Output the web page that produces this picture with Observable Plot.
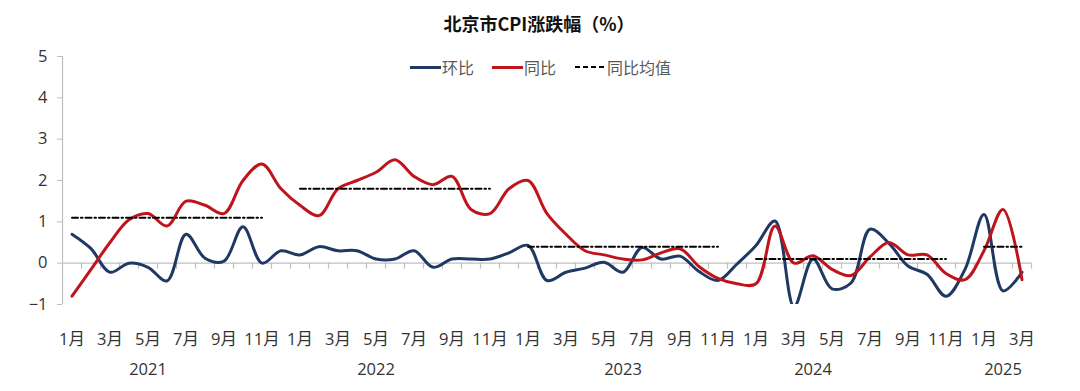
<!DOCTYPE html>
<html>
<head>
<meta charset="utf-8">
<script src="https://cdn.jsdelivr.net/npm/d3@7"></script>
<script src="https://cdn.jsdelivr.net/npm/@observablehq/plot@0.6"></script>
<style>
  body { margin: 0; background: #fff; }
  #wrap { position: relative; width: 1080px; height: 391px; font-family: "Open Sans", "Noto Sans CJK SC", sans-serif; }
  #title { position: absolute; left: 0; top: 10px; width: 1078px; text-align: center; font: bold 18px/26px "Noto Sans CJK SC", sans-serif; color: #111; }
  .lg { position: absolute; top: 57px; height: 20px; display: flex; align-items: center; font: 16px/20px "Noto Sans CJK SC", sans-serif; color: #595959; }
  .sw { width: 31px; height: 3px; margin-right: 1px; }
  #chart { position: absolute; left: 0; top: 0; }
</style>
</head>
<body>
<div id="wrap">
  <div id="chart"></div>
  <div id="title">北京市CPI涨跌幅（%）</div>
  <div class="lg" style="left:410px"><div class="sw" style="background:#1F3864"></div>环比</div>
  <div class="lg" style="left:492px"><div class="sw" style="background:#C0141C"></div>同比</div>
  <div class="lg" style="left:575px"><svg width="32" height="4" style="margin-right:0px"><line x1="0" y1="2" x2="32" y2="2" stroke="#000" stroke-width="2" stroke-dasharray="5,3"/></svg>同比均值</div>
</div>
<script>
const periods = [
  "2021-01","2021-02","2021-03","2021-04","2021-05","2021-06","2021-07","2021-08","2021-09","2021-10","2021-11","2021-12",
  "2022-01","2022-02","2022-03","2022-04","2022-05","2022-06","2022-07","2022-08","2022-09","2022-10","2022-11","2022-12",
  "2023-01","2023-02","2023-03","2023-04","2023-05","2023-06","2023-07","2023-08","2023-09","2023-10","2023-11","2023-12",
  "2024-01","2024-02","2024-03","2024-04","2024-05","2024-06","2024-07","2024-08","2024-09","2024-10","2024-11","2024-12",
  "2025-01","2025-02","2025-03"
];
// 环比
const mom = [
  0.7, 0.35, -0.22, 0.0, -0.1, -0.43, 0.7, 0.12, 0.05, 0.88, 0.0, 0.3,
  0.2, 0.4, 0.3, 0.3, 0.1, 0.1, 0.3, -0.1, 0.1, 0.1, 0.1, 0.25,
  0.43, -0.42, -0.22, -0.12, 0.02, -0.22, 0.38, 0.1, 0.17, -0.2, -0.42, -0.02,
  0.43, 1.02, -1.05, 0.1, -0.62, -0.48, 0.82, 0.48, -0.07, -0.27, -0.8, -0.15,
  1.18, -0.67, -0.22
];
// 同比
const yoy = [
  -0.8, -0.15, 0.5, 1.05, 1.2, 0.9, 1.5, 1.4, 1.2, 2.0, 2.4, 1.8,
  1.4, 1.15, 1.8, 2.0, 2.2, 2.5, 2.1, 1.9, 2.1, 1.3, 1.2, 1.8,
  2.0, 1.2, 0.7, 0.3, 0.2, 0.1, 0.08, 0.25, 0.35, -0.08, -0.37, -0.5,
  -0.5, 0.9, 0.0, 0.18, -0.15, -0.3, 0.15, 0.5, 0.2, 0.2, -0.25, -0.4,
  0.3, 1.3, -0.4
];
// 同比均值
const yoyMean = [
  1.1, 1.1, 1.1, 1.1, 1.1, 1.1, 1.1, 1.1, 1.1, 1.1, 1.1, null,
  1.8, 1.8, 1.8, 1.8, 1.8, 1.8, 1.8, 1.8, 1.8, 1.8, 1.8, null,
  0.4, 0.4, 0.4, 0.4, 0.4, 0.4, 0.4, 0.4, 0.4, 0.4, 0.4, null,
  0.1, 0.1, 0.1, 0.1, 0.1, 0.1, 0.1, 0.1, 0.1, 0.1, 0.1, null,
  0.4, 0.4, 0.4
];
const yTicks = [-1, 0, 1, 2, 3, 4, 5];
const yearLabels = ["2021", "2022", "2023", "2024", "2025"];
const yearLabelAt = ["2021-05", "2022-05", "2023-06", "2024-04", "2025-02"];

const rows = periods.map((p, i) => ({i, p, mom: mom[i], yoy: yoy[i], mean: yoyMean[i]}));
const idx = p => periods.indexOf(p);
const monthLabel = i => `${+periods[i].slice(5)}月`;
const xDomain = [-0.5, periods.length - 0.5];
const tickIdx = periods.map((p, i) => i).filter(i => i % 2 === 0);
const bounds = periods.map((p, i) => i + 0.5);
const years = yearLabels.map((y, k) => ({label: y, i: idx(yearLabelAt[k])}));

const BLUE = "#1F3864", RED = "#C0141C", AX = "#BFBFBF";
const font = `"Open Sans", "Noto Sans CJK SC", sans-serif`;

const chart = Plot.plot({
  width: 1080,
  height: 391,
  marginLeft: 62,
  marginRight: 49,
  marginTop: 56,
  marginBottom: 87,
  style: {fontFamily: font, fontSize: "16px", color: "#404040", background: "transparent"},
  x: {type: "linear", domain: xDomain},
  y: {domain: [yTicks[0], yTicks[yTicks.length - 1]]},
  marks: [
    Plot.ruleY([0], {stroke: AX, strokeWidth: 1.2}),
    Plot.ruleX(bounds, {x: d => d, y1: 0, y2: 0, insetBottom: -6, stroke: AX, strokeWidth: 1.2}),
    Plot.ruleX([xDomain[0]], {stroke: AX, strokeWidth: 1.2}),
    Plot.axisY(yTicks, {tickSize: 5, tickPadding: 10, stroke: AX, fill: "#333", fontSize: 16.5, label: null}),
    Plot.axisX(tickIdx, {tickSize: 0, tickPadding: 29, tickFormat: monthLabel, fill: "#333", fontSize: 16.5, label: null}),
    Plot.text(years, {x: "i", text: "label", frameAnchor: "bottom", dy: 70, fill: "#333", fontSize: 16.5}),
    Plot.line(rows, {x: "i", y: "mom", curve: "catmull-rom", stroke: BLUE, strokeWidth: 3, clip: true}),
    Plot.line(rows, {x: "i", y: "yoy", curve: "catmull-rom", stroke: RED, strokeWidth: 3, clip: true}),
    Plot.line(rows, {x: "i", y: "mean", stroke: "#000", strokeWidth: 2, strokeDasharray: "6,3,1.5,3"})
  ]
});
document.getElementById("chart").appendChild(chart);
</script>
</body>
</html>
